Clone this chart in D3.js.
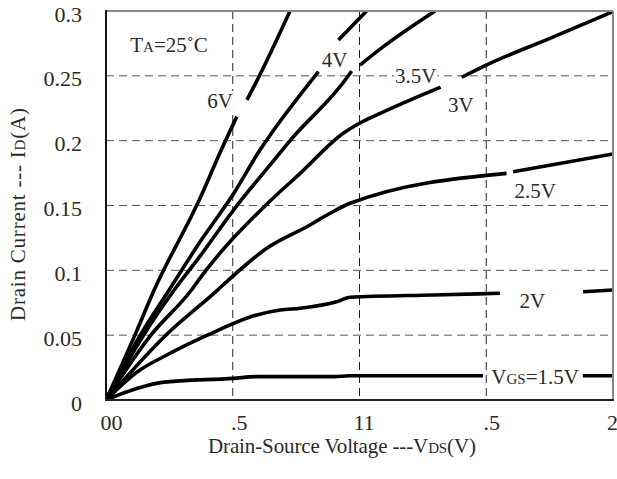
<!DOCTYPE html>
<html><head><meta charset="utf-8">
<script src="https://cdn.jsdelivr.net/npm/d3@7"></script>
<style>
body{margin:0;background:#fff}
svg{display:block}
text, tspan{font-family:'Liberation Serif','Times New Roman',serif;fill:#2a2a2a}
</style>
</head><body>
<svg id="c" width="617" height="479"></svg>
<script>
// ---- data ----
const xTickValues = [0, 0.5, 1, 1.5, 2];
const xTickLabels = ["00", ".5", "11", ".5", "2"];
const yTickValues = [0, 0.05, 0.1, 0.15, 0.2, 0.25, 0.3];
const yTickLabels = ["0", "0.05", "0.1", "0.15", "0.2", "0.25", "0.3"];
const seriesNames = ["1.5V", "2V", "2.5V", "3V", "3.5V", "4V", "6V"];
// [VDS (V), ID (A)]; null = break in the drawn line
const vgs15 = [[0,0],[0.124,0.009],[0.221,0.0136],[0.503,0.0167],[0.595,0.018],[0.9,0.018],[0.96,0.0187],[1.487,0.0187],null,[1.881,0.0187],[2.0,0.0187]];
const vgs20 = [[0,0],[0.124,0.0218],[0.24,0.0347],[0.4,0.05],[0.595,0.0656],[0.687,0.0694],[0.766,0.0708],[0.91,0.0758],[0.963,0.0792],[1.291,0.081],[1.554,0.0823],null,[1.882,0.0835],[2.0,0.0848]];
const vgs25 = [[0,0],[0.236,0.05],[0.44,0.0848],[0.483,0.0925],[0.634,0.117],[0.805,0.135],[0.884,0.144],[0.963,0.1517],[1.58,0.1748],null,[1.606,0.176],[2.0,0.1897]];
const vgs30 = [[0,0],[0.177,0.05],[0.337,0.0848],[0.371,0.094],[0.634,0.151],[0.766,0.1748],[0.936,0.2057],[1.0,0.2134],[1.068,0.2198],[1.32,0.2413],null,[1.403,0.2489],[1.5,0.2583],[1.751,0.2789],[2.0,0.2995]];
const vgs35 = [[0,0],[0.148,0.05],[0.269,0.0848],[0.371,0.111],[0.503,0.1465],[0.68,0.189],[0.726,0.2],[0.956,0.25],[0.969,0.2537],null,[1.002,0.2583],[1.094,0.2725],[1.298,0.3]];
const vgs40 = [[0,0],[0.135,0.05],[0.249,0.0848],[0.371,0.122],[0.503,0.159],[0.608,0.193],[0.661,0.208],[0.825,0.25],[0.838,0.2532],null,[0.917,0.2776],[1.028,0.3]];
const vgs60 = [[0,0],[0.117,0.0514],[0.19,0.0848],[0.371,0.1555],[0.455,0.193],[0.516,0.2185],null,[0.556,0.2314],[0.605,0.25],[0.726,0.3]];
const allSeries = [vgs15, vgs20, vgs25, vgs30, vgs35, vgs40, vgs60];
// label texts: parts [text, isSmall]
const labelTexts = [
  [["V",0],["GS",1],["=1.5V",0]],
  [["2V",0]],
  [["2.5V",0]],
  [["3V",0]],
  [["3.5V",0]],
  [["4V",0]],
  [["6V",0]],
  [["T",0],["A",1],["=25\u02DAC",0]]
];
// label anchor (left, baseline) in data units [V, A]
const labelAnchors = [[1.52,0.0123],[1.631,0.0707],[1.611,0.1558],[1.349,0.2223],[1.14,0.2442],[0.851,0.257],[0.399,0.2252],[0.0957,0.2684]];
const xTitle = [["Drain-Source Voltage ---V",0],["DS",1],["(V)",0]];
const yTitle = [["Drain Current --- I",0],["D",1],["(A)",0]];

// ---- layout ----
const FONT = "'Liberation Serif','Times New Roman',serif";
const L = 106, R = 613, T = 11, B = 400;
const xLabelShift = [5, 6, 4, 5, -1];
const svg = d3.select("#c");
const x = d3.scaleLinear().domain([0, 2]).range([L, R]);
const y = d3.scaleLinear().domain([0, 0.3]).range([B, T]);

svg.append("defs").append("clipPath").attr("id","clip")
  .append("rect").attr("x",L).attr("y",T).attr("width",R-L).attr("height",B-T);

// grid
const grid = svg.append("g");
grid.selectAll("line.h").data(yTickValues.filter(v => v > 0 && v < 0.3)).join("line")
  .attr("x1", L).attr("x2", R).attr("y1", d => y(d)).attr("y2", d => y(d))
  .attr("stroke", "#555").attr("stroke-width", 1).attr("stroke-dasharray", "8,5");
grid.selectAll("line.v").data(xTickValues.filter(v => v > 0 && v < 2)).join("line")
  .attr("y1", T).attr("y2", B).attr("x1", d => x(d)).attr("x2", d => x(d))
  .attr("stroke", "#222").attr("stroke-width", 1).attr("stroke-dasharray", "8,5");

const bgLayer = svg.append("g");
const curveLayer = svg.append("g").attr("clip-path","url(#clip)");
const labelLayer = svg.append("g");

const line = d3.line().defined(d => d !== null)
  .x(d => x(d[0])).y(d => y(d[1])).curve(d3.curveMonotoneX);
curveLayer.selectAll("path").data(allSeries).join("path")
  .attr("d", line).attr("fill","none").attr("stroke","#000")
  .attr("stroke-width",3.6).attr("stroke-linejoin","round").attr("stroke-linecap","butt");

function richText(sel, parts, big, small) {
  sel.style("font-family", FONT);
  parts.forEach(p => sel.append("tspan").text(p[0]).style("font-family", FONT).attr("font-size", p[1] ? small : big));
  return sel;
}
labelTexts.forEach((parts, i) => {
  const t = labelLayer.append("text")
    .attr("x", x(labelAnchors[i][0])).attr("y", y(labelAnchors[i][1]));
  richText(t, parts, 21, 15);
  const bb = t.node().getBBox();
  bgLayer.append("rect").attr("x", bb.x - 1).attr("y", bb.y + 2)
    .attr("width", bb.width + 2).attr("height", bb.height - 3).attr("fill", "#fff");
});

// axes
const yAxis = svg.append("g").attr("transform", `translate(${L},0)`)
  .call(d3.axisLeft(y).tickValues(yTickValues).tickFormat((d,i) => yTickLabels[i]).tickSize(0).tickPadding(24));
yAxis.attr("font-family", null).attr("font-size", null);
yAxis.select(".domain").remove();
yAxis.selectAll("text").attr("dy", null).attr("y", 10)
  .attr("font-size", 22).style("font-family", FONT).attr("fill","#2a2a2a");

const xAxis = svg.append("g").attr("transform", `translate(0,${B})`)
  .call(d3.axisBottom(x).tickValues(xTickValues).tickFormat((d,i) => xTickLabels[i]).tickSize(0));
xAxis.attr("font-family", null).attr("font-size", null);
xAxis.select(".domain").remove();
xAxis.selectAll("text").attr("dy", null).attr("y", 30)
  .attr("dx", (d,i) => xLabelShift[i])
  .attr("font-size", 22).style("font-family", FONT).attr("fill","#2a2a2a");

// frame
svg.append("line").attr("x1",L).attr("x2",R).attr("y1",T).attr("y2",T).attr("stroke","#888").attr("stroke-width",2);
svg.append("line").attr("x1",R).attr("x2",R).attr("y1",T).attr("y2",B).attr("stroke","#888").attr("stroke-width",2);
svg.append("line").attr("x1",L).attr("x2",L).attr("y1",T-1).attr("y2",B+1).attr("stroke","#111").attr("stroke-width",2);
svg.append("line").attr("x1",L-1).attr("x2",R+1).attr("y1",B).attr("y2",B).attr("stroke","#222").attr("stroke-width",2);

// titles
const xt = svg.append("text").attr("x", 208).attr("y", 452.5)
  .attr("textLength", 268).attr("lengthAdjust", "spacing");
richText(xt, xTitle, 21, 15);
const yt = svg.append("text").attr("transform", "translate(25,321) rotate(-90)")
  .attr("textLength", 213).attr("lengthAdjust", "spacing");
richText(yt, yTitle, 21, 15);
</script>
</body></html>
